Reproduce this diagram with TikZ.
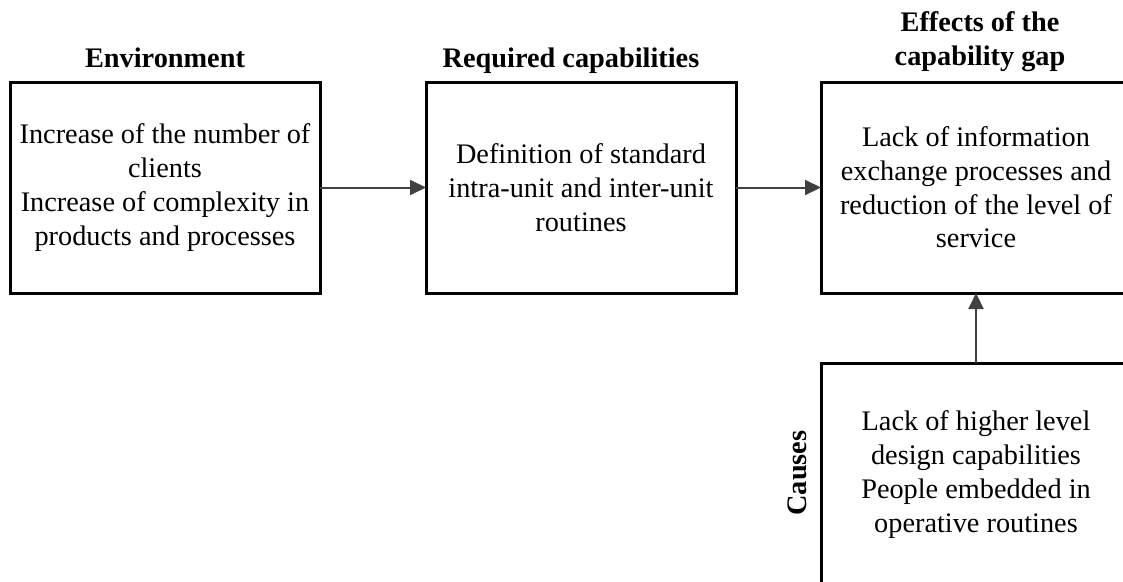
\documentclass[tikz,border=0pt]{standalone}
\usepackage{fontspec}
\setmainfont{Liberation Serif}
\usetikzlibrary{arrows.meta}
\definecolor{arrowgray}{RGB}{64,64,64}
\begin{document}
\begin{tikzpicture}[x=1pt,y=-1pt,
  every node/.style={font=\fontsize{28.3}{33.7}\selectfont, inner sep=0pt, outer sep=0pt},
  block/.style={draw=black, line width=3pt, minimum width=310pt, align=center},
  heading/.style={font=\fontsize{28.3}{33.7}\selectfont\bfseries, align=center, anchor=base},
  flow/.style={draw=arrowgray, line width=2pt, -{Triangle[length=16pt,width=15pt]}}]
  \useasboundingbox (0,0) rectangle (1123,581);
  \clip (0,0) rectangle (1123,581);

  % boxes
  \node[block, minimum height=211pt] (env) at (165,187.5)
    {Increase of the number of\\clients\\Increase of complexity in\\products and processes};
  \node[block, minimum height=211pt] (req) at (581,187.5)
    {Definition of standard\\intra-unit and inter-unit\\routines};
  \node[block, minimum height=211pt] (eff) at (976,187.5)
    {Lack of information\\exchange processes and\\reduction of the level of\\service};
  \node[block, minimum height=223pt] (cause) at (976,474.5)
    {Lack of higher level\\design capabilities\\People embedded in\\operative routines};

  % headings (a multi-line heading sits on its last baseline)
  \node[heading] (henv) at (165,67) {Environment};
  \node[heading] (hreq) at (571,67) {Required capabilities};
  \node[heading] (heff) at (980,65) {Effects of the\\capability gap};
  \node[font=\fontsize{28.3}{33.7}\selectfont\bfseries, rotate=90] (hcause) at (797,473) {Causes};

  % connectors
  \draw[flow] (env.east) -- (req.west);
  \draw[flow] (req.east) -- (eff.west);
  \draw[flow] (cause.north) -- (eff.south);
\end{tikzpicture}
\end{document}
